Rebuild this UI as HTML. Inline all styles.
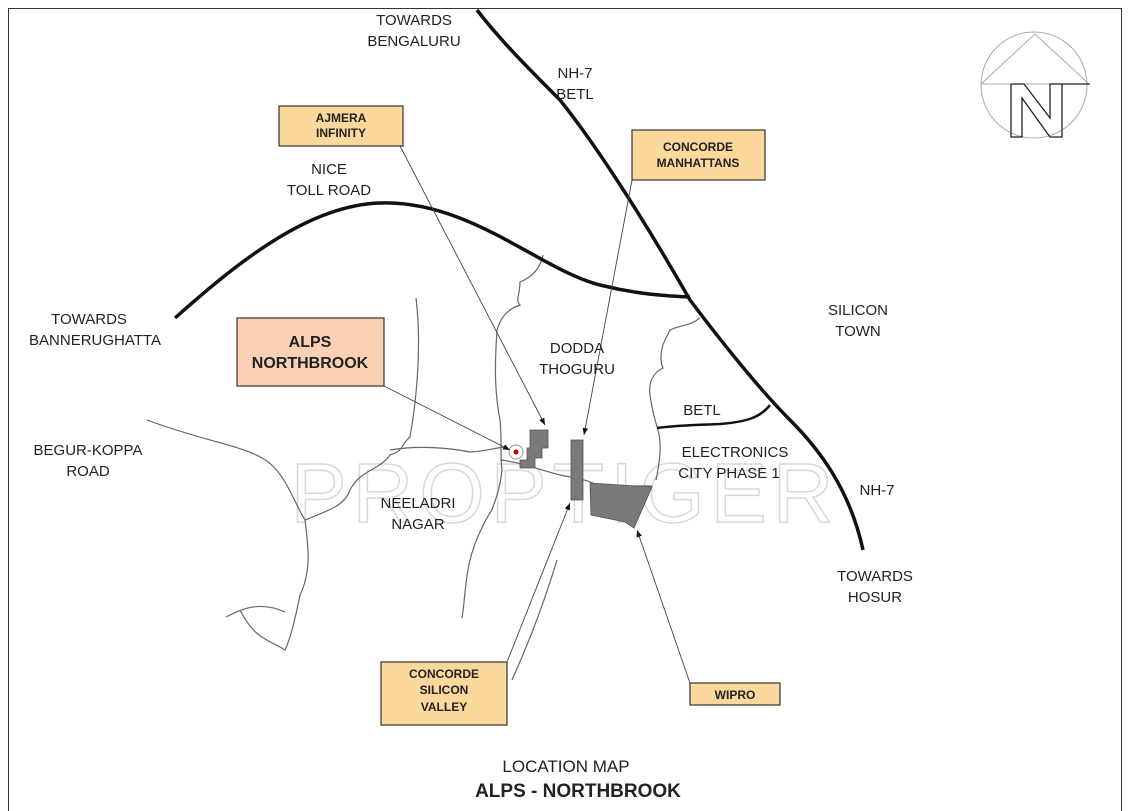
<!DOCTYPE html>
<html><head><meta charset="utf-8"><style>
html,body{margin:0;padding:0;background:#fff;}
svg{display:block;font-family:"Liberation Sans",Arial,sans-serif;}
</style></head><body>
<svg width="1130" height="811" viewBox="0 0 1130 811" xmlns="http://www.w3.org/2000/svg">
<defs>
<marker id="ah" viewBox="0 0 10 10" refX="10" refY="5" markerWidth="7" markerHeight="9" orient="auto" markerUnits="userSpaceOnUse"><path d="M0,1 L10,5 L0,9 z" fill="#111"/></marker>
</defs>
<rect x="0" y="0" width="1130" height="811" fill="#fff"/>
<rect x="8.5" y="8.5" width="1113" height="810" fill="none" stroke="#333" stroke-width="1"/>

<!-- watermark -->
<text x="565" y="522" text-anchor="middle" font-size="84" fill="none" stroke="#d8d8d8" stroke-width="1.5" letter-spacing="6">PROPTIGER</text>

<!-- compass -->
<g fill="none" stroke="#aaa" stroke-width="1">
<circle cx="1034" cy="85" r="53"/>
<path d="M981,84 L1035,34 L1089,84 Z"/>
</g>
<path d="M1011,84 L1024,84 L1050,118 L1050,84 L1090,84 M1011,84 L1011,137 L1022,137 L1022,98 L1050,137 L1062,137 L1062,84" fill="none" stroke="#222" stroke-width="1.3"/>

<!-- thin roads -->
<g fill="none" stroke="#666" stroke-width="1.2">
<path d="M147,420 C200,440 240,445 262,458 C285,470 295,505 305,520 C330,510 345,505 350,490 C360,470 380,470 390,455 C405,450 400,445 410,437 C420,380 420,330 416,298"/>
<path d="M390,450 C420,445 450,448 470,452 C480,452 495,448 505,447"/>
<path d="M305,520 C308,545 312,570 300,595 C295,620 290,640 285,650 C270,640 255,640 240,610"/>
<path d="M226,617 C240,610 258,600 285,612"/>
<path d="M543,255 C540,270 530,278 520,282 C520,295 515,300 520,305 C505,310 500,320 497,330 C495,360 494,390 500,420 C502,440 500,455 502,470 C500,490 495,500 492,510 C485,520 475,540 470,560 C465,580 465,600 462,618"/>
<path d="M500,460 C520,462 540,470 560,475 C575,478 590,480 598,486 L652,486"/>
<path d="M700,318 C690,326 680,325 670,330 L665,340 C660,350 660,362 663,368 C655,372 648,380 650,395 C652,410 655,420 658,430 C662,445 660,460 656,480"/>
<path d="M557,560 C545,600 530,640 512,680"/>
</g>
<!-- BETL -->
<path d="M657,428 C680,425 700,425 720,424 C745,422 760,418 770,405" fill="none" stroke="#111" stroke-width="2.5"/>

<!-- thick roads -->
<path d="M477,10 C500,40 530,70 560,100 C600,150 650,230 690,300 C720,340 760,390 790,420 C820,450 850,490 863,550" fill="none" stroke="#111" stroke-width="3.5"/>
<path d="M175,318 C240,260 310,205 380,203 C470,200 540,270 600,285 C640,295 670,296 690,297" fill="none" stroke="#111" stroke-width="3.5"/>

<!-- plots -->
<g fill="#7a7a7a" stroke="#555" stroke-width="0.8">
<path d="M530,430 L548,430 L548,448 L542,448 L542,458 L535,458 L535,468 L520,468 L520,460 L527,460 L527,448 L530,448 Z"/>
<rect x="571" y="440" width="12" height="60"/>
<path d="M590,483 L652,487 L634,528 L625,522 L591,515 Z"/>
</g>
<circle cx="516" cy="452" r="7" fill="#fff" stroke="#999"/>
<circle cx="516" cy="452" r="2.5" fill="#c00"/>

<!-- leader lines -->
<g stroke="#444" stroke-width="0.9" fill="none" marker-end="url(#ah)">
<line x1="400" y1="146" x2="545" y2="425"/>
<line x1="384" y1="386" x2="510" y2="450"/>
<line x1="632" y1="180" x2="584" y2="435"/>
<line x1="507" y1="662" x2="570" y2="503"/>
<line x1="690" y1="683" x2="637" y2="530"/>
</g>

<!-- boxes -->
<g stroke="#333" stroke-width="1.2">
<rect x="279" y="106" width="124" height="40" fill="#fbd89b"/>
<rect x="632" y="130" width="133" height="50" fill="#fbd89b"/>
<rect x="237" y="318" width="147" height="68" fill="#fbd1b6"/>
<rect x="381" y="662" width="126" height="63" fill="#fbd89b"/>
<rect x="690" y="683" width="90" height="22" fill="#fbd89b"/>
</g>
<g font-weight="bold" fill="#222" text-anchor="middle" font-size="12">
<text x="341" y="122">AJMERA</text><text x="341" y="137">INFINITY</text>
<text x="698" y="151">CONCORDE</text><text x="698" y="167">MANHATTANS</text>
<text x="444" y="678">CONCORDE</text><text x="444" y="694">SILICON</text><text x="444" y="711">VALLEY</text>
<text x="735" y="699">WIPRO</text>
<text x="310" y="347" font-size="16">ALPS</text><text x="310" y="368" font-size="16">NORTHBROOK</text>
</g>

<!-- labels -->
<g fill="#222" font-size="15" text-anchor="middle">
<text x="414" y="25">TOWARDS</text><text x="414" y="46">BENGALURU</text>
<text x="575" y="78">NH-7</text><text x="575" y="99">BETL</text>
<text x="329" y="174">NICE</text><text x="329" y="195">TOLL ROAD</text>
<text x="89" y="324">TOWARDS</text><text x="95" y="345">BANNERUGHATTA</text>
<text x="858" y="315">SILICON</text><text x="858" y="336">TOWN</text>
<text x="577" y="353">DODDA</text><text x="577" y="374">THOGURU</text>
<text x="702" y="415">BETL</text>
<text x="735" y="457">ELECTRONICS</text><text x="729" y="478">CITY PHASE 1</text>
<text x="88" y="455">BEGUR-KOPPA</text><text x="88" y="476">ROAD</text>
<text x="418" y="508">NEELADRI</text><text x="418" y="529">NAGAR</text>
<text x="877" y="495">NH-7</text>
<text x="875" y="581">TOWARDS</text><text x="875" y="602">HOSUR</text>
<text x="566" y="772" font-size="17">LOCATION MAP</text>
<text x="578" y="797" font-size="19" font-weight="bold">ALPS - NORTHBROOK</text>
</g>
</svg>
</body></html>
